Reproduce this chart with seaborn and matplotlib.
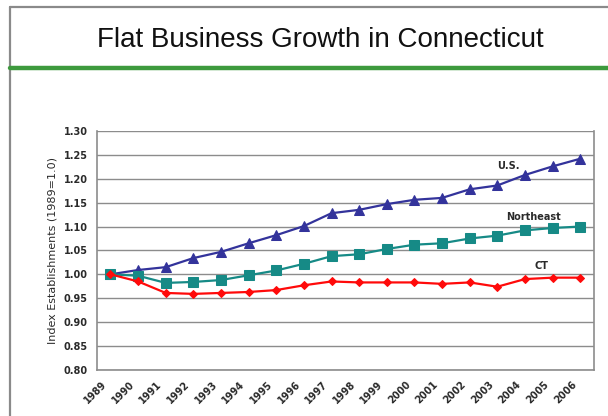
import matplotlib
matplotlib.use("Agg")
import matplotlib.pyplot as plt
import matplotlib.transforms as mtransforms
import seaborn as sns
import pandas as pd
from matplotlib.lines import Line2D

# Chart data
years = list(range(1989, 2007))
us = [1.000, 1.009, 1.015, 1.034, 1.047, 1.065, 1.082, 1.101, 1.128, 1.135,
      1.147, 1.156, 1.160, 1.178, 1.186, 1.208, 1.226, 1.242]
northeast = [1.000, 0.997, 0.982, 0.984, 0.988, 0.998, 1.008, 1.022, 1.038, 1.042,
             1.053, 1.062, 1.065, 1.075, 1.081, 1.092, 1.097, 1.100]
ct = [1.000, 0.985, 0.961, 0.959, 0.961, 0.963, 0.967, 0.977, 0.985, 0.983,
      0.983, 0.983, 0.980, 0.983, 0.974, 0.990, 0.993, 0.993]
y_ticks = [0.80, 0.85, 0.90, 0.95, 1.00, 1.05, 1.10, 1.15, 1.20, 1.25, 1.30]

df = pd.DataFrame({"Year": years, "U.S.": us, "Northeast": northeast, "CT": ct})

sns.set_style("white")
plt.rcParams['font.family'] = ['DejaVu Sans']

fig = plt.figure(figsize=(6.08, 4.16), dpi=100)
ax = fig.add_axes([0.159, 0.111, 0.818, 0.574])

# Function for drawing one series
def draw_series(col, color, marker, msize):
    sns.lineplot(data=df, x="Year", y=col, ax=ax, color=color, marker=marker,
                 markersize=msize, markeredgecolor=color, linewidth=1.6, zorder=3)

draw_series("U.S.", "#33339B", "^", 7)
draw_series("Northeast", "#168A86", "s", 6.5)
draw_series("CT", "#FF0A0A", "D", 4.5)

ax.set_xlim(1988.5, 2006.5)
ax.set_ylim(0.80, 1.30)
ax.set_yticks(y_ticks)
ax.set_yticklabels([f"{v:.2f}" for v in y_ticks], fontsize=7, fontweight='bold', color='#2A2A2A')
ax.set_xticks(years)
ax.set_xticklabels([str(y) for y in years], rotation=45, ha='right', rotation_mode='anchor',
                   fontsize=7, fontweight='bold', color='#2A2A2A')
ax.tick_params(axis='y', length=3.5, width=1, color='#8C8C8C', pad=3)
ax.tick_params(axis='x', length=0, pad=7)
# labels sit a bit left of their points in the original (after tick_params, which resets transforms)
shift = mtransforms.ScaledTranslation(-9 / 100, 0, fig.dpi_scale_trans)
for lbl in ax.get_xticklabels():
    lbl.set_transform(lbl.get_transform() + shift)
ax.set_xlabel("")
ax.set_ylabel("Index Establishments (1989=1.0)", fontsize=8, color='#2A2A2A', labelpad=4)
ax.grid(axis='y', color='#8C8C8C', linewidth=1.0)
ax.set_axisbelow(True)
for side in ['left', 'bottom', 'right', 'top']:
    ax.spines[side].set_color('#8C8C8C')
    ax.spines[side].set_linewidth(1.2)
ax.spines['top'].set_visible(False)

# Series labels
ax.text(14.4 + 1989, 1.227, "U.S.", fontsize=7, fontweight='bold', ha='center', va='center', color='#2A2A2A')
ax.text(15.3 + 1989, 1.120, "Northeast", fontsize=7, fontweight='bold', ha='center', va='center', color='#2A2A2A')
ax.text(15.6 + 1989, 1.018, "CT", fontsize=7, fontweight='bold', ha='center', va='center', color='#2A2A2A')

# Slide frame, title and green rule
fig.add_artist(Line2D([10 / 608, 10 / 608], [0, 1 - 7 / 416], color='#8A8A8A', linewidth=1.6))
fig.add_artist(Line2D([10 / 608, 1], [1 - 7 / 416, 1 - 7 / 416], color='#8A8A8A', linewidth=1.6))
fig.add_artist(Line2D([10 / 608, 1], [1 - 68 / 416, 1 - 68 / 416], color='#3D9A3D', linewidth=3.2))
fig.text(320 / 608, 1 - 40 / 416, "Flat Business Growth in Connecticut", fontsize=20,
         ha='center', va='center', color='#111111', family=['Liberation Sans', 'DejaVu Sans'])

fig.savefig("out.png", dpi=100)
